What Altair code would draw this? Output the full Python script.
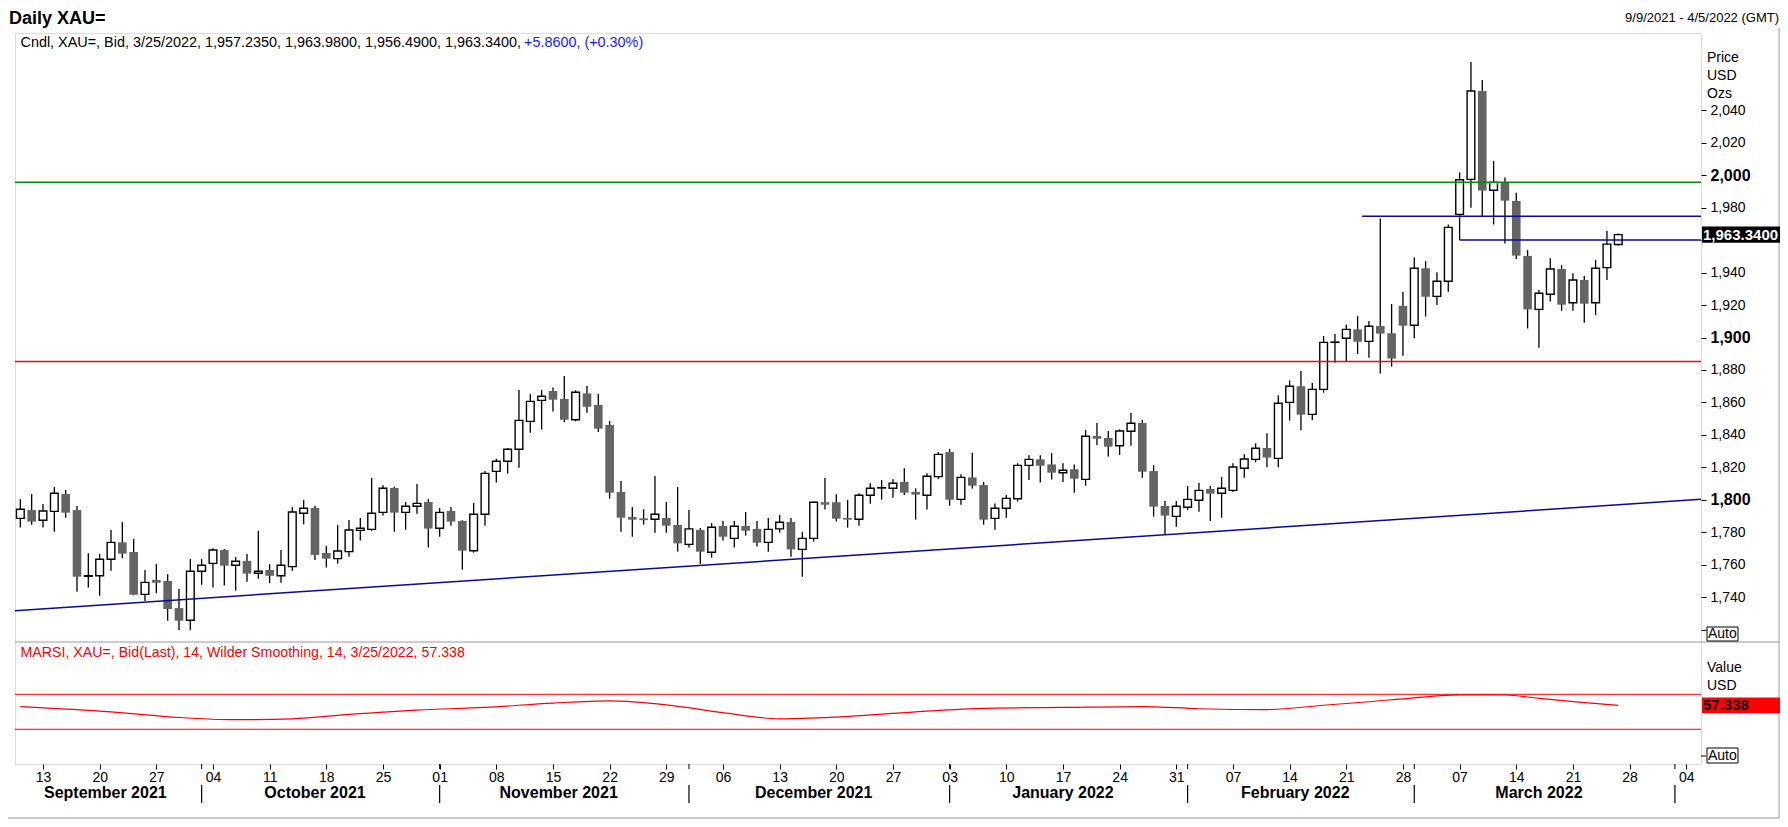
import altair as alt
import pandas as pd
import numpy as np

FONT = "Liberation Sans"

# ---------------- data ----------------
dates = pd.bdate_range("2021-09-09", "2022-03-25")

opens = [
    1788.7, 1793.8, 1787.5, 1793.0, 1803.7, 1793.8, 1753.0, 1753.4, 1763.5, 1773.9,
    1768.0, 1741.9, 1750.8, 1750.2, 1733.5, 1726.0, 1756.1, 1761.0, 1769.2, 1759.8,
    1762.5, 1754.9, 1756.9, 1753.4, 1759.0, 1791.8, 1795.1, 1767.4, 1763.9, 1768.2,
    1781.3, 1781.9, 1792.4, 1807.4, 1792.4, 1796.1, 1798.8, 1782.6, 1793.2, 1787.1,
    1768.8, 1791.2, 1817.6, 1823.8, 1831.2, 1848.4, 1861.3, 1867.1, 1862.2, 1849.4,
    1865.6, 1858.5, 1846.2, 1804.9, 1789.5, 1788.7, 1788.1, 1788.9, 1784.6, 1772.7,
    1781.5, 1767.8, 1784.0, 1776.4, 1784.0, 1782.2, 1773.9, 1782.2, 1786.5, 1769.6,
    1776.4, 1798.6, 1798.6, 1788.9, 1788.1, 1802.9, 1807.4, 1807.2, 1811.1, 1804.9,
    1802.9, 1814.4, 1829.5, 1800.4, 1813.9, 1809.2, 1788.7, 1794.9, 1800.8, 1821.3,
    1825.0, 1821.9, 1816.8, 1818.9, 1812.7, 1839.4, 1838.2, 1833.4, 1842.3, 1847.4,
    1817.8, 1796.3, 1789.9, 1795.5, 1799.8, 1806.8, 1804.1, 1805.9, 1819.5, 1825.0,
    1832.0, 1825.6, 1860.1, 1870.0, 1852.7, 1868.1, 1897.0, 1899.5, 1905.0, 1897.6,
    1907.1, 1902.6, 1919.4, 1907.5, 1942.6, 1925.3, 1934.6, 1975.8, 1997.3, 2051.7,
    1990.6, 1995.5, 1984.0, 1950.2, 1917.3, 1926.6, 1942.2, 1921.4, 1935.4, 1921.4,
    1943.0, 1957.235]
highs = [
    1800.4, 1803.7, 1797.5, 1808.0, 1806.2, 1796.3, 1767.2, 1766.8, 1781.5, 1786.5,
    1776.0, 1756.9, 1760.6, 1754.3, 1745.2, 1763.7, 1763.7, 1770.3, 1769.8, 1764.9,
    1766.8, 1781.1, 1760.4, 1769.2, 1795.7, 1800.0, 1796.5, 1771.7, 1784.6, 1787.7,
    1788.9, 1813.5, 1809.0, 1808.2, 1798.8, 1809.8, 1800.6, 1795.1, 1795.7, 1787.5,
    1798.2, 1817.8, 1825.4, 1832.0, 1867.7, 1865.2, 1867.7, 1869.3, 1876.3, 1867.5,
    1870.2, 1865.2, 1848.6, 1811.7, 1795.7, 1794.3, 1814.8, 1798.8, 1808.0, 1793.8,
    1782.8, 1785.8, 1787.1, 1787.1, 1792.6, 1787.1, 1788.9, 1790.8, 1788.9, 1780.3,
    1799.0, 1813.5, 1803.5, 1800.0, 1804.1, 1810.3, 1812.3, 1812.7, 1819.5, 1807.2,
    1816.4, 1829.5, 1831.4, 1815.8, 1829.1, 1811.1, 1797.9, 1803.1, 1822.6, 1827.5,
    1827.5, 1828.9, 1822.6, 1821.9, 1843.1, 1847.4, 1842.5, 1843.5, 1853.5, 1849.2,
    1821.5, 1799.4, 1799.4, 1808.6, 1810.5, 1808.6, 1814.2, 1822.6, 1828.1, 1834.9,
    1841.0, 1864.4, 1873.6, 1879.4, 1872.0, 1900.9, 1902.2, 1907.9, 1913.2, 1910.2,
    1973.3, 1920.6, 1928.0, 1949.3, 1947.1, 1940.1, 1969.6, 2001.6, 2069.5, 2058.5,
    2008.6, 1998.4, 1989.1, 1953.8, 1929.2, 1948.7, 1944.6, 1939.5, 1937.8, 1947.7,
    1965.5, 1963.98]
lows = [
    1783.0, 1784.8, 1783.0, 1780.5, 1789.1, 1743.6, 1746.1, 1741.1, 1756.5, 1764.1,
    1741.3, 1737.8, 1742.6, 1725.7, 1720.0, 1720.0, 1747.9, 1746.1, 1747.3, 1744.2,
    1749.7, 1751.6, 1748.7, 1749.1, 1756.5, 1785.0, 1763.1, 1758.4, 1760.8, 1765.1,
    1775.0, 1781.1, 1790.4, 1780.5, 1781.7, 1791.6, 1770.7, 1777.4, 1784.2, 1757.1,
    1767.6, 1784.2, 1810.7, 1816.2, 1819.9, 1841.4, 1843.3, 1854.4, 1847.8, 1848.4,
    1853.7, 1841.8, 1800.8, 1780.5, 1777.4, 1784.8, 1779.9, 1779.9, 1768.2, 1770.7,
    1760.6, 1764.5, 1775.0, 1770.7, 1778.1, 1771.3, 1768.2, 1779.9, 1765.1, 1752.8,
    1774.4, 1794.1, 1786.7, 1783.0, 1784.2, 1797.7, 1800.2, 1801.4, 1803.1, 1787.9,
    1794.1, 1812.9, 1796.5, 1797.1, 1807.0, 1784.8, 1781.7, 1789.1, 1799.0, 1812.3,
    1810.7, 1812.5, 1811.1, 1804.5, 1808.8, 1833.8, 1826.7, 1827.7, 1833.4, 1813.7,
    1789.7, 1779.1, 1783.6, 1793.8, 1792.8, 1787.1, 1789.1, 1804.9, 1813.7, 1823.2,
    1820.1, 1820.1, 1848.8, 1842.9, 1849.0, 1866.1, 1884.5, 1885.5, 1889.8, 1887.6,
    1877.9, 1882.1, 1888.8, 1899.5, 1912.8, 1920.0, 1928.2, 1960.0, 1979.9, 1974.8,
    1969.6, 1957.9, 1948.3, 1905.6, 1893.7, 1922.1, 1916.5, 1916.5, 1909.1, 1913.8,
    1935.4, 1956.49]
closes = [
    1794.3, 1786.7, 1793.2, 1804.1, 1792.2, 1752.8, 1753.4, 1763.5, 1773.9, 1767.0,
    1741.7, 1749.3, 1749.1, 1732.9, 1725.7, 1756.1, 1759.8, 1769.2, 1759.6, 1762.3,
    1754.7, 1756.1, 1753.4, 1759.8, 1792.6, 1794.9, 1766.2, 1763.9, 1768.6, 1781.5,
    1782.6, 1791.8, 1807.2, 1792.2, 1796.1, 1797.9, 1782.4, 1792.4, 1786.7, 1768.8,
    1791.2, 1816.4, 1823.8, 1831.2, 1849.0, 1860.7, 1863.8, 1861.7, 1849.4, 1866.3,
    1857.4, 1843.9, 1804.5, 1789.1, 1787.9, 1787.6, 1791.2, 1784.2, 1773.3, 1782.2,
    1768.2, 1783.2, 1777.4, 1783.8, 1781.1, 1773.7, 1781.9, 1786.3, 1769.6, 1776.4,
    1798.6, 1797.1, 1788.5, 1787.9, 1802.9, 1807.2, 1807.6, 1810.3, 1804.5, 1803.3,
    1814.6, 1828.1, 1800.2, 1813.9, 1808.8, 1787.9, 1794.9, 1801.0, 1821.3, 1825.0,
    1821.1, 1816.8, 1818.3, 1813.1, 1839.2, 1837.7, 1832.8, 1842.5, 1847.2, 1817.4,
    1795.9, 1790.4, 1796.1, 1800.4, 1805.9, 1803.9, 1807.2, 1820.3, 1825.2, 1831.8,
    1826.1, 1859.5, 1870.0, 1852.5, 1868.1, 1897.0, 1897.2, 1905.0, 1897.4, 1906.9,
    1902.4, 1887.0, 1907.3, 1942.6, 1925.1, 1934.6, 1967.8, 1997.1, 2051.7, 1990.4,
    1995.5, 1984.2, 1950.4, 1917.3, 1927.2, 1942.2, 1920.2, 1935.4, 1920.8, 1942.6,
    1957.48, 1963.34]

# RSI key points
rsi_dates = ["2021-09-09", "2021-09-21", "2021-09-29", "2021-10-06", "2021-10-13",
             "2021-10-20", "2021-10-28", "2021-11-05", "2021-11-15", "2021-11-22",
             "2021-11-29", "2021-12-06", "2021-12-13", "2021-12-20", "2021-12-29",
             "2022-01-06", "2022-01-17", "2022-01-26", "2022-02-02", "2022-02-10",
             "2022-02-17", "2022-02-23", "2022-03-01", "2022-03-07", "2022-03-11",
             "2022-03-16", "2022-03-21", "2022-03-25"]
rsi_vals = [56.0, 50.0, 43.5, 41.0, 42.0, 47.0, 52.0, 55.0, 60.0, 62.5,
            58.0, 49.0, 42.0, 44.0, 50.0, 54.0, 55.0, 56.0, 53.5, 52.5,
            57.5, 61.5, 66.0, 69.3, 69.2, 65.4, 61.6, 57.338]
rsi_levels = [70, 30]

# drawn lines (price levels and trend line)
green_level = [1995.5]
red_level = [1885.3]
blue_levels = [1974.6, 1960.0]
blue_starts = ["2022-02-23", "2022-03-07"]
blue_start_offset = [0.6, 0.0]
trend_x = [-0.47, 148.3]
trend_y = [1731.9, 1800.4]

month_names = ["September 2021", "October 2021", "November 2021", "December 2021",
               "January 2022", "February 2022", "March 2022"]

axis_start, axis_end = "2021-09-09", "2022-04-05"

# ---------------- derived frames ----------------
start = np.datetime64(axis_start)


def bidx(ds):
    arr = np.array(pd.to_datetime(ds).values.astype("datetime64[D]"))
    return np.busday_count(start, arr)


df = pd.DataFrame({"date": dates, "open": opens, "high": highs,
                   "low": lows, "close": closes})
df["i"] = bidx(df["date"])
df["xl_d"] = df["i"] - 0.38
df["xr_d"] = df["i"] + 0.38
df["xl_u"] = df["i"] - 0.34
df["xr_u"] = df["i"] + 0.34

rsi_df = pd.DataFrame({"i": bidx(rsi_dates), "v": rsi_vals})

axis_days = pd.bdate_range(axis_start, axis_end)
ad = pd.DataFrame({"d": axis_days, "i": bidx(axis_days)})
ad["m"] = ad["d"].dt.to_period("M")
grp = ad.groupby("m")["i"]
month_df = pd.DataFrame({"m": month_names,
                         "c": grp.mean().values[:len(month_names)]})
sep_df = pd.DataFrame({"s": grp.min().values[1:]})

mondays = pd.date_range("2021-09-13", "2022-04-04", freq="W-MON")
mon_idx = [int(v) for v in bidx(mondays)]
mon_lab = [d.strftime("%d") for d in mondays]

last_close = closes[-1]
last_rsi = rsi_vals[-1]

# ---------------- scales / axes ----------------
XDOM = [trend_x[0], trend_x[1]]
xscale = alt.Scale(domain=XDOM, nice=False, zero=False)
label_expr = "[" + ",".join(repr(l) for l in mon_lab) + "][round((datum.value - %d) / 5)]" % mon_idx[0]
xaxis = alt.Axis(values=mon_idx, labelExpr=label_expr, title=None, grid=False,
                 domain=False, tickSize=5, tickColor="black", labelColor="black",
                 labelFontSize=14, labelFont=FONT, labelPadding=1,
                 labelOverlap=False, labelFlush=False, labelBound=False)

ymain = alt.Scale(domain=[1712.6, 2087.4], range=[609, 0], nice=False, zero=False)
yrsi = alt.Scale(domain=[-9.7, 129.8], range=[731, 609], nice=False, zero=False)

bold_test = "datum.value % 100 == 0"
# 1,960 sits under the last-price box, and 1,720 carries the "Auto" box
yaxis = alt.Axis(orient="right", values=list(range(1720, 2041, 20)),
                 labelExpr="(datum.value == 1720 || datum.value == 1960) ? '' : format(datum.value, ',')",
                 title=None, grid=False, domain=False, tickSize=5,
                 tickColor="black", labelColor="black", labelFont=FONT,
                 labelFontSize={"condition": {"test": bold_test, "value": 16}, "value": 14},
                 labelFontWeight={"condition": {"test": bold_test, "value": "bold"}, "value": "normal"},
                 labelPadding=4, labelOverlap=False, labelFlush=False, labelBound=False)


def X(f):
    return alt.X(f"{f}:Q", scale=xscale, axis=xaxis)


def YM(f, axis=None):
    return alt.Y(f"{f}:Q", scale=ymain, axis=axis)


def YR(f):
    return alt.Y(f"{f}:Q", scale=yrsi, axis=None)


one = pd.DataFrame({"a": [0]})


def label(txt, x, y, **kw):
    props = dict(text=txt, align="left", baseline="middle", font=FONT,
                 fontSize=14, color="black")
    props.update(kw)
    return alt.Chart(one).mark_text(**props).encode(x=alt.value(x), y=alt.value(y))


def prule(x, y, x2=None, y2=None, color="#9c9ca4", w=1):
    enc = dict(x=alt.value(x), y=alt.value(y))
    if x2 is not None:
        enc["x2"] = alt.value(x2)
    if y2 is not None:
        enc["y2"] = alt.value(y2)
    return alt.Chart(one).mark_rule(color=color, strokeWidth=w).encode(**enc)


# ---------------- layers ----------------
wicks = alt.Chart(df).mark_rule(color="black", strokeWidth=1.3).encode(
    x=X("i"), y=YM("low", yaxis), y2="high:Q")

up = alt.Chart(df).transform_filter("datum.close >= datum.open").mark_rect(
    fill="white", stroke="black", strokeWidth=1.4).encode(
    x=X("xl_u"), x2="xr_u:Q", y=YM("open"), y2="close:Q")

down = alt.Chart(df).transform_filter("datum.close < datum.open").mark_rect(
    fill="#646464").encode(
    x=X("xl_d"), x2="xr_d:Q", y=YM("open"), y2="close:Q")

green = alt.Chart(pd.DataFrame({"y": green_level})).mark_rule(
    color="#0a8a0a", strokeWidth=1.5).encode(y=YM("y"))
red = alt.Chart(pd.DataFrame({"y": red_level})).mark_rule(
    color="#e01010", strokeWidth=1.5).encode(y=YM("y"))

blue_df = pd.DataFrame({"y": blue_levels,
                        "x0": bidx(blue_starts) - np.array(blue_start_offset),
                        "x1": [XDOM[1]] * len(blue_levels)})
blue = alt.Chart(blue_df).mark_rule(color="#0a0a9a", strokeWidth=1.5).encode(
    x=X("x0"), x2="x1:Q", y=YM("y"))

trend = alt.Chart(pd.DataFrame({"x0": [trend_x[0]], "x1": [trend_x[1]],
                                "y0": [trend_y[0]], "y1": [trend_y[1]]})).mark_rule(
    color="#0a0a9a", strokeWidth=1.5).encode(x=X("x0"), x2="x1:Q", y=YM("y0"), y2="y1:Q")

rsi_lvls = alt.Chart(pd.DataFrame({"y": rsi_levels})).mark_rule(
    color="#ff0000", strokeWidth=1).encode(y=YR("y"))
rsi_line = alt.Chart(rsi_df).mark_line(color="#ff0000", strokeWidth=1.2,
                                      interpolate="monotone").encode(x=X("i"), y=YR("v"))

# current value boxes
price_box = alt.Chart(pd.DataFrame({"t": [last_close + 5], "b": [last_close - 5]})).mark_rect(
    color="black").encode(x=alt.value(1687), x2=alt.value(1765), y=YM("t"), y2="b:Q")
price_txt = alt.Chart(pd.DataFrame({"v": [last_close],
                                    "s": ["{:,.4f}".format(last_close)]})).mark_text(
    align="left", baseline="middle", font=FONT, fontSize=15, fontWeight="bold",
    color="white").encode(x=alt.value(1688), y=YM("v"), text="s:N")

rsi_box = alt.Chart(pd.DataFrame({"t": [last_rsi + 9], "b": [last_rsi - 9]})).mark_rect(
    color="#ff0000").encode(x=alt.value(1687), x2=alt.value(1765), y=YR("t"), y2="b:Q")
rsi_txt = alt.Chart(pd.DataFrame({"v": [last_rsi], "s": ["{:.3f}".format(last_rsi)]})).mark_text(
    align="left", baseline="middle", font=FONT, fontSize=15, fontWeight="bold",
    color="black").encode(x=alt.value(1688), y=YR("v"), text="s:N")

# month labels and separators
months = alt.Chart(month_df).mark_text(font=FONT, fontSize=16, fontWeight="bold",
                                       baseline="middle", color="black").encode(
    x=X("c"), y=alt.value(760), text="m:N")
seps = alt.Chart(sep_df).mark_rule(color="black", strokeWidth=1.2).encode(
    x=X("s"), y=alt.value(752), y2=alt.value(770))
sep_ticks = alt.Chart(sep_df).mark_rule(color="black", strokeWidth=1).encode(
    x=X("s"), y=alt.value(731), y2=alt.value(736))

# auto boxes
auto_main_box = alt.Chart(one).mark_rect(fill="white", stroke="black", strokeWidth=1).encode(
    x=alt.value(1692), x2=alt.value(1723), y=alt.value(594), y2=alt.value(608))
auto_rsi_box = alt.Chart(one).mark_rect(fill="white", stroke="black", strokeWidth=1).encode(
    x=alt.value(1692), x2=alt.value(1723), y=alt.value(715), y2=alt.value(730))

layers = [
    wicks, up, down, trend, green, red, blue, rsi_lvls, rsi_line,
    months, seps, sep_ticks,
    prule(0, 609, x2=1764),
    prule(1764, -5, y2=785),
    prule(-7, 785, x2=1764),
    prule(1686, 723, x2=1691, color="black"),
    price_box, price_txt, rsi_box, rsi_txt,
    auto_main_box, auto_rsi_box,
    label("Auto", 1693, 601),
    label("Auto", 1693, 723),
    label(["Price", "USD", "Ozs"], 1692, 25, lineHeight=18),
    label(["Value", "USD"], 1692, 635, lineHeight=18),
    label("Daily XAU=", -6, -14, fontSize=18, fontWeight="bold"),
    label("9/9/2021 - 4/5/2022 (GMT)", 1764, -15, fontSize=13, align="right"),
    label("Cndl, XAU=, Bid, 3/25/2022, 1,957.2350, 1,963.9800, 1,956.4900, 1,963.3400,",
          5.5, 10, fontSize=14.4),
    label("+5.8600, (+0.30%)", 509, 10, fontSize=14.4, color="#1a1aff"),
    label("MARSI, XAU=, Bid(Last),  14, Wilder Smoothing, 14, 3/25/2022, 57.338",
          5.5, 620, fontSize=14.2, color="#ff0000"),
]

chart = alt.layer(*layers).resolve_scale(y="independent").properties(
    width=1686, height=731,
    autosize=alt.AutoSizeParams(type="none"),
    padding={"left": 7, "top": 25, "right": 79, "bottom": 55},
).configure_view(stroke="#9c9ca4", strokeWidth=1).configure(background="white")

chart.save("out.html", embed_options={"renderer": "svg", "actions": False})
